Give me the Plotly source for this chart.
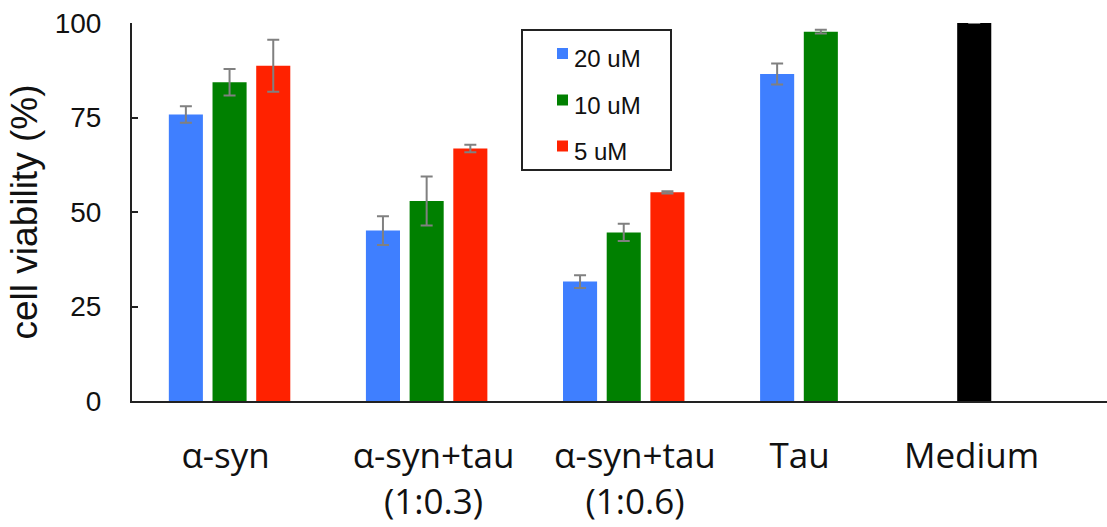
import plotly.graph_objects as go

# Treatment groups shown along the x axis
categories = ["α-syn", "α-syn+tau<br>(1:0.3)", "α-syn+tau<br>(1:0.6)", "Tau", "Medium"]
series_names = ["20 uM", "10 uM", "5 uM"]

# Cell viability (%) and error (±) per concentration
viab_20uM = [75.8, 45.1, 31.6, 86.5, 100.0]
err_20uM = [2.2, 3.8, 1.7, 2.8, None]
viab_10uM = [84.3, 52.9, 44.6, 97.7, None]
err_10uM = [3.5, 6.5, 2.3, 0.5, None]
viab_5uM = [88.7, 66.8, 55.2, None, None]
err_5uM = [6.9, 1.0, 0.3, None, None]

y_ticks = [0, 25, 50, 75, 100]

BLUE = "#3f7fff"
GREEN = "#008000"
RED = "#ff2200"
BLACK = "#000000"
ERR_COLOR = "#808080"

# Group positions on a numeric axis; labels are centred under the bars present
group_pos = list(range(len(categories)))
label_shift = [-0.02, 0.035, 0.057, -0.108, -0.235]
label_pos = [p + s for p, s in zip(group_pos, label_shift)]

# Medium control sits in the first slot, drawn in black
colors_20 = [BLUE] * 4 + [BLACK]

series = [
    (series_names[0], viab_20uM, err_20uM, colors_20, BLUE),
    (series_names[1], viab_10uM, err_10uM, GREEN, GREEN),
    (series_names[2], viab_5uM, err_5uM, RED, RED),
]

fig = go.Figure()
for name, vals, errs, col, _ in series:
    fig.add_trace(go.Bar(
        x=group_pos, y=vals, name=name,
        marker=dict(color=col, line=dict(width=0)),
        error_y=dict(type="data", array=errs, visible=True,
                     color=ERR_COLOR, thickness=2, width=6),
        showlegend=False,
    ))

# Plot area in pixels (used to place the boxed key)
L, R, T, B = 132, 1107, 23, 401
W, H = R - L, B - T

def px_x(p):
    return (p - L) / W

def px_y(p):
    return (B - p) / H

shapes = [dict(type="rect", xref="paper", yref="paper",
               x0=px_x(522), x1=px_x(671), y0=px_y(170), y1=px_y(30),
               line=dict(color="#222222", width=2), fillcolor="rgba(0,0,0,0)")]
annotations = []
row_y = [53.5, 100, 146]
for (name, _, _, _, swatch), cy in zip(series, row_y):
    shapes.append(dict(type="rect", xref="paper", yref="paper",
                       x0=px_x(557), x1=px_x(568),
                       y0=px_y(cy + 5.5), y1=px_y(cy - 5.5),
                       line=dict(width=0), fillcolor=swatch))
    annotations.append(dict(xref="paper", yref="paper", x=px_x(572), y=px_y(cy + 5),
                            text=name, showarrow=False, xanchor="left", yanchor="middle",
                            font=dict(family="Liberation Sans, Arial", size=24, color="#111111")))

fig.update_layout(
    width=1107, height=527,
    margin=dict(l=L, r=1107 - R, t=T, b=527 - B),
    paper_bgcolor="white", plot_bgcolor="white",
    barmode="group", bargap=0.335, bargroupgap=0.22,
    shapes=shapes, annotations=annotations,
    showlegend=False,
)

fig.update_xaxes(
    range=[-0.495, 4.452],
    tickmode="array", tickvals=label_pos, ticktext=categories,
    showline=True, linecolor="#222222", linewidth=2,
    ticks="", showgrid=False, zeroline=False,
    tickfont=dict(family="Open Sans", size=35, color="#111111"),
    ticklabelstandoff=23,
)

fig.update_yaxes(
    range=[0, 100], tickvals=y_ticks,
    showline=True, linecolor="#222222", linewidth=2,
    ticks="inside", ticklen=6, tickwidth=2, tickcolor="#222222",
    showgrid=False, zeroline=False,
    tickfont=dict(family="Liberation Sans, Arial", size=28, color="#111111"),
    ticklabelstandoff=23,
    title=dict(text="cell viability (%)", standoff=6,
               font=dict(family="Liberation Sans, Arial", size=37, color="#111111")),
)

fig.write_html("out.html")
